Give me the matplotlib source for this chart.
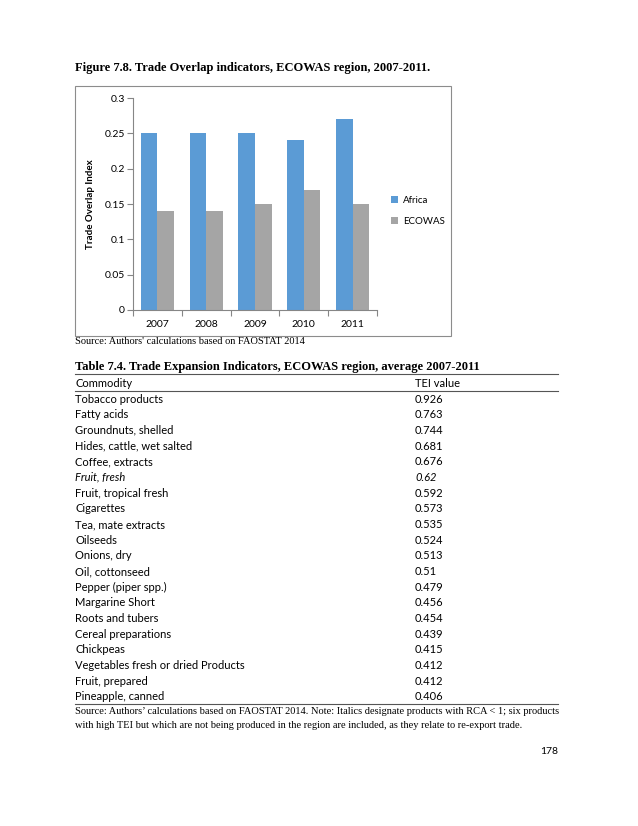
import numpy as np
import matplotlib
matplotlib.use("Agg")
from matplotlib import pyplot as plt
from matplotlib.lines import Line2D
from matplotlib.patches import Rectangle

# chart data
years = ["2007", "2008", "2009", "2010", "2011"]
africa = [0.25, 0.25, 0.25, 0.24, 0.27]
ecowas = [0.14, 0.14, 0.15, 0.17, 0.15]
yticks = [0, 0.05, 0.1, 0.15, 0.2, 0.25, 0.3]
ytick_labels = ["0", "0.05", "0.1", "0.15", "0.2", "0.25", "0.3"]

# table data
commodities = ["Tobacco products", "Fatty acids", "Groundnuts, shelled",
               "Hides, cattle, wet salted", "Coffee, extracts", "Fruit, fresh",
               "Fruit, tropical fresh", "Cigarettes", "Tea, mate extracts",
               "Oilseeds", "Onions, dry", "Oil, cottonseed", "Pepper (piper spp.)",
               "Margarine Short", "Roots and tubers", "Cereal preparations",
               "Chickpeas", "Vegetables fresh or dried Products", "Fruit, prepared",
               "Pineapple, canned"]
tei = ["0.926", "0.763", "0.744", "0.681", "0.676", "0.62", "0.592", "0.573",
       "0.535", "0.524", "0.513", "0.51", "0.479", "0.456", "0.454", "0.439",
       "0.415", "0.412", "0.412", "0.406"]
italic_rows = {"Fruit, fresh"}

W, H = 638, 826
SERIF = "Liberation Serif"
SANS = "Lato"

def fx(x):
    return x / W

def fy(y):
    return 1 - y / H

fig = plt.figure(figsize=(W / 100, H / 100), dpi=100)

# figure caption
fig.text(fx(75), fy(68), "Figure 7.8. Trade Overlap indicators, ECOWAS region, 2007-2011.",
         family=SERIF, weight="bold", fontsize=9, va="center", ha="left")

# chart frame
fig.add_artist(Rectangle((fx(75), fy(336)), fx(451) - fx(75), fy(86) - fy(336),
                         transform=fig.transFigure, fill=False, ec="#8c8c8c", lw=0.8))

ax = fig.add_axes([fx(133), fy(310), fx(377) - fx(133), fy(98) - fy(310)])
x = np.arange(len(years))
bw = 0.34
ax.bar(x - bw / 2, africa, bw, color="#5b9bd5", label="Africa")
ax.bar(x + bw / 2, ecowas, bw, color="#a5a5a5", label="ECOWAS")
ax.set_xlim(-0.5, len(years) - 0.5)
ax.set_ylim(0, 0.3)
ax.set_yticks(yticks)
ax.set_yticklabels(ytick_labels, family=SANS, fontsize=7.5)
ax.set_xticks(x)
ax.set_xticklabels(years, family=SANS, fontsize=7.5)
ax.set_xticks(np.arange(len(years) + 1) - 0.5, minor=True)
ax.tick_params(axis="x", which="major", length=0, pad=7)
ax.tick_params(axis="x", which="minor", length=4, color="#868686", width=0.8)
ax.tick_params(axis="y", length=4, color="#868686", width=0.8, pad=2)
for s in ["top", "right"]:
    ax.spines[s].set_visible(False)
for s in ["left", "bottom"]:
    ax.spines[s].set_color("#868686")
    ax.spines[s].set_linewidth(0.8)
ax.set_ylabel("Trade Overlap Index", family=SANS, weight="bold", fontsize=7)
ax.yaxis.set_label_coords((95 - 133) / (377 - 133), 0.5)

leg = ax.legend(loc="center left", bbox_to_anchor=(fx(382), fy(211)),
                bbox_transform=fig.transFigure, frameon=False,
                prop={"family": SANS, "size": 7}, handlelength=0.75, handleheight=0.75,
                handletextpad=0.5, labelspacing=1.3)

# source under chart
fig.text(fx(75), fy(342), "Source: Authors' calculations based on FAOSTAT 2014",
         family=SERIF, fontsize=7.5, va="center", ha="left")

# table
fig.text(fx(75), fy(367), "Table 7.4. Trade Expansion Indicators, ECOWAS region, average 2007-2011",
         family=SERIF, weight="bold", fontsize=9, va="center", ha="left")
for yy in (374, 391, 704):
    fig.add_artist(Line2D([fx(75), fx(558)], [fy(yy), fy(yy)], transform=fig.transFigure,
                          color="#555555", lw=0.8))
fig.text(fx(75), fy(383), "Commodity", family=SANS, fontsize=8, va="center", ha="left")
fig.text(fx(415), fy(383), "TEI value", family=SANS, fontsize=8, va="center", ha="left")

row0, step = 399, (697 - 399) / 19
for i, (c, v) in enumerate(zip(commodities, tei)):
    style = "italic" if c in italic_rows else "normal"
    yy = fy(row0 + i * step)
    fig.text(fx(75), yy, c, family=SANS, fontsize=8, style=style, va="center", ha="left")
    fig.text(fx(415), yy, v, family=SANS, fontsize=8, style=style, va="center", ha="left")

fig.text(fx(75), fy(712), "Source: Authors\u2019 calculations based on FAOSTAT 2014. Note: Italics designate products with RCA < 1; six products",
         family=SERIF, fontsize=7.5, va="center", ha="left")
fig.text(fx(75), fy(726), "with high TEI but which are not being produced in the region are included, as they relate to re-export trade.",
         family=SERIF, fontsize=7.5, va="center", ha="left")
fig.text(fx(558), fy(751), "178", family=SANS, fontsize=7.5, va="center", ha="right")

fig.savefig("out.png", dpi=100)
